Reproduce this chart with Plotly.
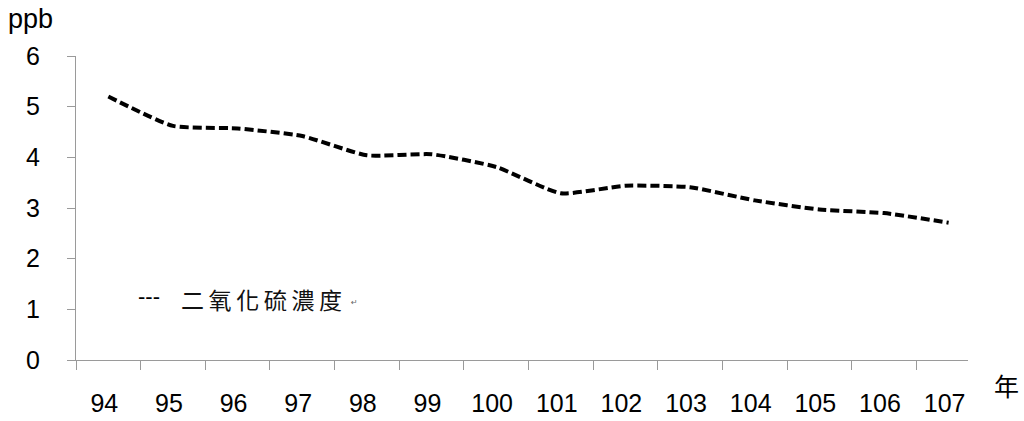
import plotly.graph_objects as go

years = [94, 95, 96, 97, 98, 99, 100, 101, 102, 103, 104, 105, 106, 107]
year_labels = [str(y) for y in years]
so2_ppb = [5.20, 4.62, 4.57, 4.42, 4.04, 4.06, 3.81, 3.29, 3.44, 3.41, 3.15, 2.97, 2.90, 2.71]
y_ticks = [0, 1, 2, 3, 4, 5, 6]

W, H = 1024, 421
L, R, T, B = 76, 56, 56, 61
pw, ph = W - L - R, H - T - B

def px(x):
    return (x - L) / pw

def py(y):
    return (H - B - y) / ph

fig = go.Figure()
fig.add_trace(go.Scatter(
    x=years, y=so2_ppb, mode="lines",
    line=dict(color="#000000", width=4, dash="9px,4px", shape="spline", smoothing=0.5),
    showlegend=False, hoverinfo="skip",
))

axis_color = "#9a9a9a"
tick_font = dict(family="Liberation Sans, Arial, sans-serif", size=25, color="#000000")

fig.update_layout(
    width=W, height=H,
    margin=dict(l=L, r=R, t=T, b=B, pad=0, autoexpand=False),
    paper_bgcolor="white", plot_bgcolor="white",
    xaxis=dict(
        range=[93.5, 107.3],
        tickmode="array", tickvals=years, ticktext=year_labels,
        ticks="", ticklabelstandoff=21, ticklabelshift=-4,
        tickfont=tick_font, automargin=False,
        showgrid=False, zeroline=False,
        showline=True, linecolor=axis_color, linewidth=1.3,
        minor=dict(tickmode="array", tickvals=[y - 0.5 for y in years],
                   ticks="outside", ticklen=9, tickcolor=axis_color, tickwidth=1.3,
                   showgrid=False),
    ),
    yaxis=dict(
        range=[0, 6],
        tickmode="array", tickvals=y_ticks, ticktext=[str(v) for v in y_ticks],
        ticks="outside", ticklen=8, tickcolor=axis_color, tickwidth=1.3,
        ticklabelstandoff=22,
        tickfont=tick_font, automargin=False,
        showgrid=False, zeroline=False,
        showline=True, linecolor=axis_color, linewidth=1.3,
    ),
    annotations=[
        dict(text="ppb", x=px(6), y=py(19), xref="paper", yref="paper",
             xanchor="left", yanchor="middle", showarrow=False,
             font=dict(family="Liberation Sans, Arial, sans-serif", size=27, color="#000000")),
        dict(text="---", x=px(136), y=py(296), xref="paper", yref="paper",
             xanchor="left", yanchor="middle", showarrow=False,
             font=dict(family="Liberation Sans, Arial, sans-serif", size=22, color="#000000")),
        dict(text="二\u2009氧\u2009化\u2009硫\u2009濃\u2009度", x=px(179), y=py(299), xref="paper", yref="paper",
             xanchor="left", yanchor="middle", showarrow=False,
             font=dict(family="Noto Sans CJK TC, sans-serif", size=23, color="#111111")),
        dict(text="↵", x=px(349), y=py(302), xref="paper", yref="paper",
             xanchor="left", yanchor="middle", showarrow=False,
             font=dict(family="DejaVu Sans, sans-serif", size=8, color="#666666")),
        dict(text="年", x=px(1006), y=py(385), xref="paper", yref="paper",
             xanchor="center", yanchor="middle", showarrow=False,
             font=dict(family="Noto Sans CJK TC, sans-serif", size=25, color="#000000")),
    ],
)

fig.write_html("out.html", config={"displayModeBar": False},
               post_script="document.body.style.margin='0';document.body.style.overflow='hidden';")
